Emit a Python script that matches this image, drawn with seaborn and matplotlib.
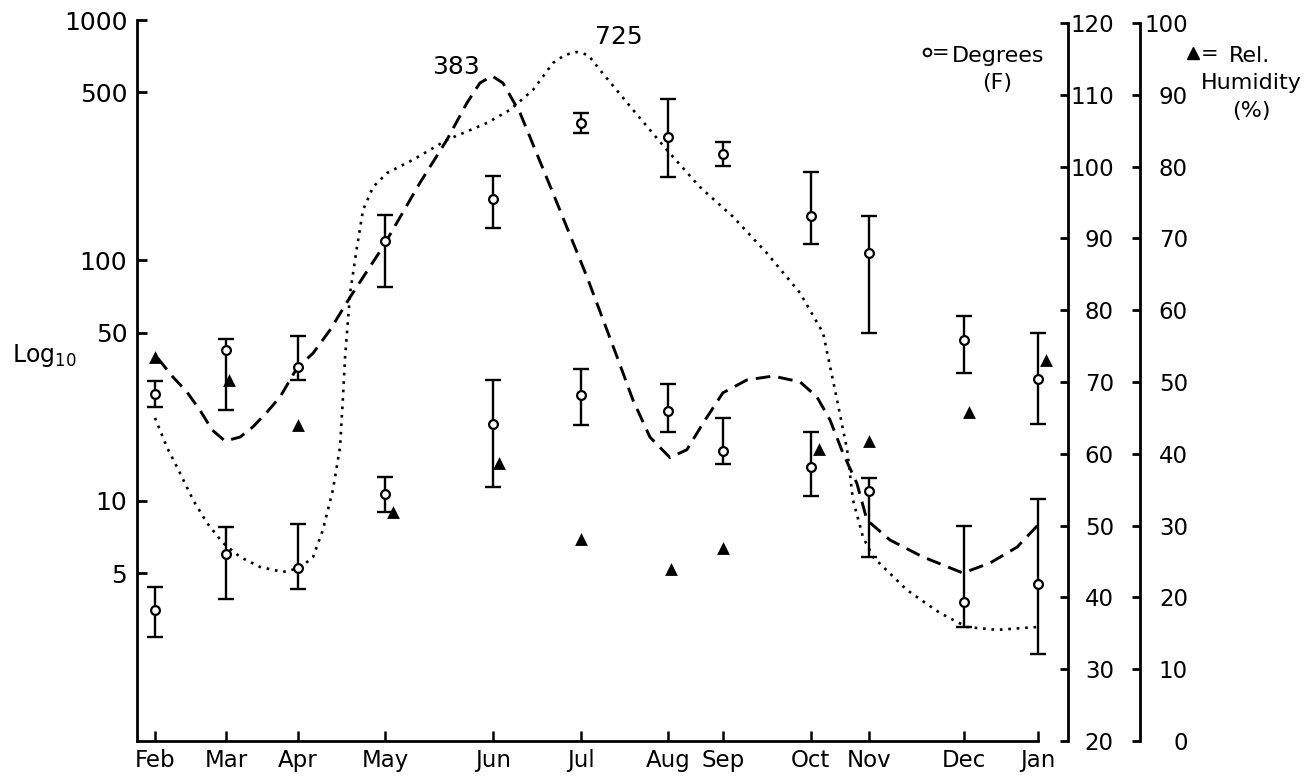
import numpy as np
import matplotlib
matplotlib.use("Agg")
import matplotlib.pyplot as plt
from matplotlib.lines import Line2D
import seaborn as sns

sns.set_theme(style="white")
plt.rcParams["font.family"] = ["DejaVu Sans"]
plt.rcParams["axes.edgecolor"] = "black"
plt.rcParams["text.color"] = "black"
plt.rcParams["xtick.color"] = "black"
plt.rcParams["ytick.color"] = "black"

# ---------------- data ----------------
months = ["Feb", "Mar", "Apr", "May", "Jun", "Jul", "Aug", "Sep", "Oct", "Nov", "Dec", "Jan"]
sample_day = [0, 27, 54, 87, 128, 161, 194, 215, 248, 270, 306, 334]

temp_max = [68.3, 74.5, 72.1, 89.6, 95.5, 106.1, 104.1, 101.8, 93.1, 88.0, 75.8, 70.4]
temp_max_hi = [70.1, 76.0, 76.4, 93.3, 98.7, 107.5, 109.4, 103.4, 99.2, 93.1, 79.2, 76.8]
temp_max_lo = [66.5, 66.1, 70.3, 83.2, 91.4, 104.7, 98.6, 100.1, 89.2, 76.8, 71.3, 64.2]

temp_min = [38.2, 46.0, 44.1, 54.4, 64.2, 68.2, 66.0, 60.4, 58.2, 54.8, 39.4, 41.9]
temp_min_hi = [41.4, 49.8, 50.2, 56.8, 70.3, 71.8, 69.7, 65.0, 63.0, 56.6, 49.9, 53.7]
temp_min_lo = [34.5, 39.8, 41.2, 51.9, 55.4, 64.0, 63.0, 58.6, 54.1, 45.6, 35.9, 32.1]

humidity_day = [0, 28, 54, 90, 130, 161, 195, 215, 251, 270, 308, 337]
humidity = [53.5, 50.3, 44.0, 31.9, 38.7, 28.1, 24.0, 26.9, 40.7, 41.8, 45.8, 53.1]

dashed_day = [1, 6.8, 12.1, 17.0, 21.6, 26.5, 32.2, 37.1, 42.4, 47.3, 53.7, 59.8, 66.2,
              73.8, 86.2, 100.2, 110.4, 118.0, 122.9, 127.5, 131.6, 138.1, 150.5, 163.4,
              174.8, 180.8, 187.2, 194.8, 201.2, 207.3, 214.8, 223.9, 233.8, 244.0, 250.4,
              255.3, 260.2, 265.5, 269.3, 278.0, 290.5, 305.6, 315.8, 326.1, 334.0]
dashed_val = [39.2, 32.7, 28.3, 23.8, 19.7, 17.7, 18.4, 20.3, 23.4, 27.0, 35.6, 41.1, 51.3,
              70.3, 113.7, 210, 317, 452, 547, 585, 547, 410, 191, 85.3,
              39.6, 26.2, 18.4, 15.1, 16.3, 21.0, 28.1, 31.8, 33.0, 31.2, 27.0,
              21.7, 15.8, 11.8, 8.31, 6.86, 5.83, 5.00, 5.50, 6.41, 7.92]

dotted_day = [0, 4.5, 9.5, 14.4, 19.7, 25.7, 32.2, 39.7, 48.4, 54.8, 59.8, 63.5, 67.3, 70.0,
              71.1, 71.9, 73.8, 76.4, 78.7, 82.5, 87.8, 97.6, 110.4, 125.6, 134.3, 143.0,
              150.5, 155.1, 159.6, 163.8, 168.3, 180.8, 193.6, 206.1, 218.6, 231.5, 244.0,
              252.7, 258.0, 261.8, 264.0, 267.8, 271.6, 284.4, 296.9, 307.1, 318.5, 333.6]
dotted_val = [22.1, 16.7, 13.0, 10.07, 8.07, 6.67, 5.83, 5.30, 5.05, 5.25, 5.83, 7.55, 11.1,
              16.7, 27.0, 39.6, 73.1, 113.7, 162, 202, 231, 262, 317, 373, 423, 512,
              662, 716, 736, 716, 620, 423, 288, 202, 152, 107, 73.1,
              49.9, 26.2, 16.3, 10.07, 7.06, 5.83, 4.25, 3.41, 2.98, 2.90, 2.98]

log_ticks = [5, 10, 50, 100, 500, 1000]
deg_ticks = list(range(20, 121, 10))
hum_ticks = list(range(0, 101, 10))

# ---------------- layout ----------------
W, H = 1315, 782
fig = plt.figure(figsize=(W / 100, H / 100), dpi=100)
fig.patch.set_facecolor("white")


def fx(px):
    return px / W


def fy(py):
    return 1 - py / H


x_left_px, x_right_px, x_first_px, x_last_px = 137, 1068, 155, 1038
ppd = (x_last_px - x_first_px) / (sample_day[-1] - sample_day[0])
xlim = (sample_day[0] - (x_first_px - x_left_px) / ppd,
        sample_day[0] + (x_right_px - x_first_px) / ppd)

ax = fig.add_axes([fx(137), fy(741), fx(1068) - fx(137), fy(20) - fy(741)])
ax_deg = fig.add_axes([fx(137), fy(741), fx(1068) - fx(137), fy(23) - fy(741)])
ax_hum = fig.add_axes([fx(137), fy(741), fx(1068) - fx(137), fy(23) - fy(741)])
for a in (ax, ax_deg, ax_hum):
    a.patch.set_visible(False)

# ---------------- main log axis: curves ----------------
ax.set_yscale("log")
sns.lineplot(x=dashed_day, y=dashed_val, ax=ax, color="black", linewidth=2.1,
             estimator=None, sort=False)
ax.lines[-1].set_linestyle((0, (5, 2.8)))
sns.lineplot(x=dotted_day, y=dotted_val, ax=ax, color="black", linewidth=1.9,
             estimator=None, sort=False)
ax.lines[-1].set_linestyle((0, (1, 2.2)))

ax.set_xlim(*xlim)
ax.set_ylim(1, 1000)
ax.set_yticks(log_ticks)
ax.set_yticklabels([str(t) for t in log_ticks])
ax.yaxis.set_minor_locator(matplotlib.ticker.NullLocator())
ax.set_xticks(sample_day)
ax.set_xticklabels(months)
for s in ("top", "right"):
    ax.spines[s].set_visible(False)
for s in ("left", "bottom"):
    ax.spines[s].set_linewidth(2.0)
ax.spines["bottom"].set_bounds(xlim[0], sample_day[-1])
ax.tick_params(axis="y", which="major", left=True, direction="in", length=7, width=2,
               labelsize=18, pad=7)
ax.tick_params(axis="x", which="major", bottom=True, direction="in", length=7, width=1.8,
               labelsize=16.5, pad=6)
ax.set_xlabel("")
ax.set_ylabel("")

# ---------------- temperature axis ----------------
for vals, lo, hi in ((temp_max, temp_max_lo, temp_max_hi), (temp_min, temp_min_lo, temp_min_hi)):
    v = np.array(vals)
    ax_deg.errorbar(sample_day, v, yerr=[v - np.array(lo), np.array(hi) - v], fmt="none",
                    ecolor="black", elinewidth=1.7, capsize=6, capthick=1.7, zorder=2)
    sns.scatterplot(x=sample_day, y=vals, ax=ax_deg, marker="o", s=40, color="white",
                    edgecolor="black", linewidth=1.6, zorder=3)
ax_deg.set_xlim(*xlim)
ax_deg.set_ylim(20, 120)
ax_deg.set_yticks(deg_ticks)
ax_deg.set_yticklabels([str(t) for t in deg_ticks])
for s in ("top", "left", "bottom"):
    ax_deg.spines[s].set_visible(False)
ax_deg.spines["right"].set_linewidth(2.0)
ax_deg.set_xticks([])
ax_deg.tick_params(axis="y", left=False, right=True, labelleft=False, labelright=True,
                   direction="in", length=6, width=2, labelsize=16.5, pad=33)
plt.setp(ax_deg.get_yticklabels(), ha="right")
ax_deg.set_xlabel("")
ax_deg.set_ylabel("")

# ---------------- humidity axis ----------------
sns.scatterplot(x=humidity_day, y=humidity, ax=ax_hum, marker="^", s=85, color="black",
                edgecolor="black", linewidth=0, zorder=4)
ax_hum.set_xlim(*xlim)
ax_hum.set_ylim(0, 100)
ax_hum.set_yticks(hum_ticks)
ax_hum.set_yticklabels([str(t) for t in hum_ticks])
for s in ("top", "left", "bottom"):
    ax_hum.spines[s].set_visible(False)
ax_hum.spines["right"].set_position(("axes", (1140 - 137) / (1068 - 137)))
ax_hum.spines["right"].set_linewidth(2.0)
ax_hum.set_xticks([])
ax_hum.tick_params(axis="y", left=False, right=True, labelleft=False, labelright=True,
                   direction="in", length=6, width=2, labelsize=16.5, pad=34.5)
plt.setp(ax_hum.get_yticklabels(), ha="right")
ax_hum.set_xlabel("")
ax_hum.set_ylabel("")

# ---------------- annotations ----------------
fig.text(fx(456), fy(67), "383", ha="center", va="center", fontsize=18)
fig.text(fx(619), fy(37), "725", ha="center", va="center", fontsize=18)
fig.text(fx(12), fy(362), "Log$_{10}$", ha="left", va="baseline", fontsize=17)

fig.add_artist(Line2D([fx(927)], [fy(52)], transform=fig.transFigure, marker="o", ms=5.5,
                      mfc="white", mec="black", mew=1.4, ls="none"))
fig.text(fx(941), fy(53), "=", ha="center", va="center", fontsize=15)
fig.text(fx(952), fy(62), "Degrees", ha="left", va="baseline", fontsize=16)
fig.text(fx(997), fy(89), "(F)", ha="center", va="baseline", fontsize=16)

fig.add_artist(Line2D([fx(1193)], [fy(53)], transform=fig.transFigure, marker="^", ms=8.5,
                      mfc="black", mec="black", ls="none"))
fig.text(fx(1210), fy(54), "=", ha="center", va="center", fontsize=15)
fig.text(fx(1229), fy(62), "Rel.", ha="left", va="baseline", fontsize=16)
fig.text(fx(1251), fy(89), "Humidity", ha="center", va="baseline", fontsize=16)
fig.text(fx(1251), fy(117), "(%)", ha="center", va="baseline", fontsize=16)

fig.savefig("out.png", dpi=100, facecolor="white")
